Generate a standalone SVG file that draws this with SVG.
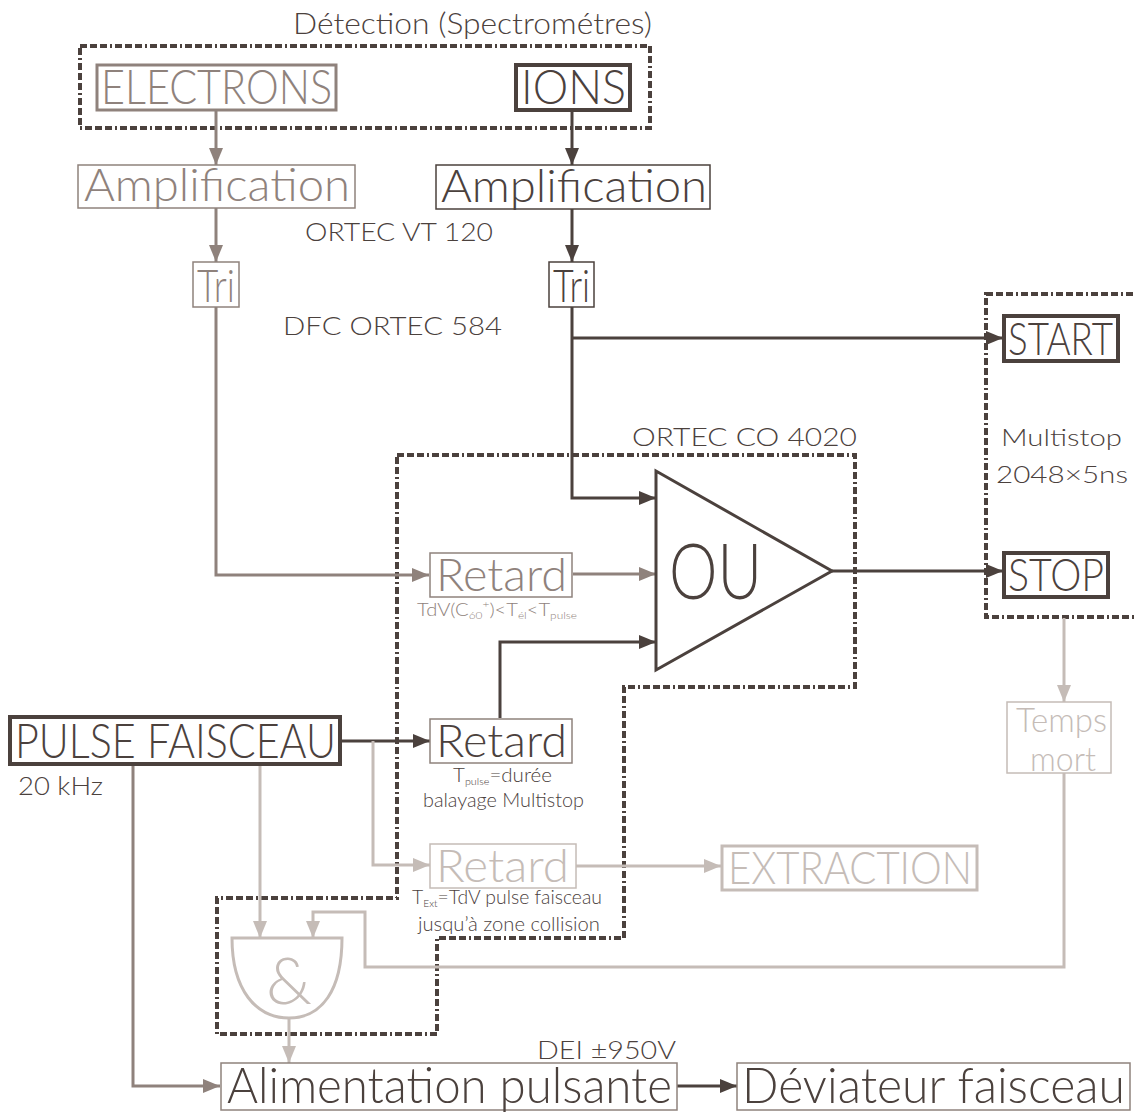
<svg xmlns="http://www.w3.org/2000/svg" width="1134" height="1113" viewBox="0 0 1134 1113">
<defs>
<style>
text{font-family:"Lato","Open Sans","DejaVu Sans",sans-serif;font-weight:300;}
.d{fill:#4b413d}.m{fill:#8f827c}.l{fill:#c5bcb7}
.bd{fill:none;stroke:#4b413d}.bm{fill:none;stroke:#8f827c}.bl{fill:none;stroke:#c5bcb7}
.dot{fill:none;stroke:#4b413d;stroke-width:4;stroke-dasharray:7 3 7 3 7 3 2 3}
.cd{fill:none;stroke:#4b413d;stroke-width:3;marker-end:url(#ad)}
.cm{fill:none;stroke:#8f827c;stroke-width:3;marker-end:url(#am)}
.cl{fill:none;stroke:#c5bcb7;stroke-width:3;marker-end:url(#al)}
</style>
<marker id="ad" viewBox="0 0 17 14" refX="17" refY="7" markerWidth="17" markerHeight="14" markerUnits="userSpaceOnUse" orient="auto"><path d="M0,0L17,7L0,14z" fill="#4b413d"/></marker>
<marker id="am" viewBox="0 0 17 14" refX="17" refY="7" markerWidth="17" markerHeight="14" markerUnits="userSpaceOnUse" orient="auto"><path d="M0,0L17,7L0,14z" fill="#8f827c"/></marker>
<marker id="al" viewBox="0 0 17 14" refX="17" refY="7" markerWidth="17" markerHeight="14" markerUnits="userSpaceOnUse" orient="auto"><path d="M0,0L17,7L0,14z" fill="#c5bcb7"/></marker>
</defs>
<rect width="1134" height="1113" fill="#ffffff"/>

<g id="groups">
<rect class="dot" x="80" y="46" width="570" height="82"/>
<text class="d" x="293" y="34" font-size="29" textLength="359" lengthAdjust="spacingAndGlyphs">Détection (Spectrométres)</text>
<rect class="dot" x="986" y="294" width="160" height="323"/>
<path class="dot" d="M397,455H855V687H624V938H437V1034H217V898H397Z"/>
<text class="d" x="632" y="446" font-size="26" textLength="225" lengthAdjust="spacingAndGlyphs">ORTEC CO 4020</text>
<text class="d" x="305" y="241" font-size="26" textLength="188" lengthAdjust="spacingAndGlyphs">ORTEC VT 120</text>
<text class="d" x="283" y="335" font-size="26" textLength="219" lengthAdjust="spacingAndGlyphs">DFC ORTEC 584</text>
<text class="d" x="1001" y="446" font-size="24" textLength="121" lengthAdjust="spacingAndGlyphs">Multistop</text>
<text class="d" x="996" y="483" font-size="24" textLength="132" lengthAdjust="spacingAndGlyphs">2048×5ns</text>
<text class="d" x="18" y="795" font-size="26" textLength="85" lengthAdjust="spacingAndGlyphs">20 kHz</text>
<text class="d" x="537" y="1059" font-size="26" textLength="139" lengthAdjust="spacingAndGlyphs">DEI ±950V</text>
</g>

<g id="connectors">
<path class="cm" d="M216,110V165"/>
<path class="cd" d="M572,110V165"/>
<path class="cm" d="M216,208V262"/>
<path class="cd" d="M572,209V262"/>
<path class="cm" d="M216,307V575H429"/>
<path class="cd" d="M572,307V498H656"/>
<path class="cd" d="M572,338H1003"/>
<path class="cm" d="M573,574H656"/>
<path class="cd" d="M832,571H1003"/>
<path class="cl" d="M1064,618V702"/>
<path class="cl" d="M1064,773V967H365V912H313V938"/>
<path class="cd" d="M340,741H430"/>
<path class="cd" d="M500,718V642H656"/>
<path class="cl" d="M373,741V865H430"/>
<path class="cl" d="M576,866H721"/>
<path class="cl" d="M260,763V938"/>
<path class="cm" d="M133,763V1086H220"/>
<path class="cl" d="M289,1018V1063"/>
<path class="cd" d="M677,1086H737"/>
</g>

<g id="electrons">
<rect class="bm" stroke-width="3" x="97" y="65" width="239" height="45"/>
<text class="m" x="101" y="104" font-size="48" textLength="231" lengthAdjust="spacingAndGlyphs">ELECTRONS</text>
</g>
<g id="ions">
<rect class="bd" stroke-width="4" x="516" y="65" width="114" height="45"/>
<text class="d" x="521" y="104" font-size="48" textLength="105" lengthAdjust="spacingAndGlyphs">IONS</text>
</g>
<g id="amp-e">
<rect class="bm" stroke-width="1.5" x="78" y="165" width="277" height="43"/>
<text class="m" x="84" y="201" font-size="45" textLength="266" lengthAdjust="spacingAndGlyphs">Amplification</text>
</g>
<g id="amp-i">
<rect class="bd" stroke-width="1.5" x="436" y="165" width="274" height="44"/>
<text class="d" x="441" y="202" font-size="45" textLength="266" lengthAdjust="spacingAndGlyphs">Amplification</text>
</g>
<g id="tri-e">
<rect class="bm" stroke-width="1.5" x="193" y="262" width="46" height="45"/>
<text class="m" x="197" y="302" font-size="46" textLength="38" lengthAdjust="spacingAndGlyphs">Tri</text>
</g>
<g id="tri-i">
<rect class="bd" stroke-width="1.5" x="549" y="262" width="45" height="45"/>
<text class="d" x="553" y="302" font-size="46" textLength="37" lengthAdjust="spacingAndGlyphs">Tri</text>
</g>
<g id="start">
<rect class="bd" stroke-width="4" x="1004" y="316" width="114" height="45"/>
<text class="d" x="1008" y="355" font-size="46" textLength="105" lengthAdjust="spacingAndGlyphs">START</text>
</g>
<g id="stop">
<rect class="bd" stroke-width="4" x="1004" y="553" width="104" height="44"/>
<text class="d" x="1008" y="591" font-size="46" textLength="96" lengthAdjust="spacingAndGlyphs">STOP</text>
</g>
<g id="ou">
<path class="bd" stroke-width="3" d="M656,471V670L832,571Z"/>
<text class="d" x="669" y="599" font-size="76" textLength="93" lengthAdjust="spacingAndGlyphs">OU</text>
</g>
<g id="retard-e">
<rect class="bm" stroke-width="1.5" x="430" y="553" width="142" height="44"/>
<text class="m" x="436" y="591" font-size="45" textLength="131" lengthAdjust="spacingAndGlyphs">Retard</text>
<text class="m" x="417" y="616" font-size="17" textLength="160" lengthAdjust="spacingAndGlyphs">TdV(C<tspan font-size="10" dy="3">60</tspan><tspan font-size="10" dy="-11">+</tspan><tspan dy="8">)&lt;T</tspan><tspan font-size="10" dy="3">él</tspan><tspan dy="-3">&lt;T</tspan><tspan font-size="10" dy="3">pulse</tspan></text>
</g>
<g id="pulse">
<rect class="bd" stroke-width="4" x="10" y="717" width="330" height="47"/>
<text class="d" x="15" y="758" font-size="48" textLength="321" lengthAdjust="spacingAndGlyphs">PULSE FAISCEAU</text>
</g>
<g id="retard-p">
<rect class="bm" stroke-width="1.5" x="430" y="719" width="142" height="44"/>
<text class="d" x="436" y="757" font-size="45" textLength="131" lengthAdjust="spacingAndGlyphs">Retard</text>
<text class="d" x="453" y="782" font-size="19" textLength="99" lengthAdjust="spacingAndGlyphs">T<tspan font-size="10" dy="3">pulse</tspan><tspan dy="-3">=durée</tspan></text>
<text class="d" x="423" y="807" font-size="19" textLength="161" lengthAdjust="spacingAndGlyphs">balayage Multistop</text>
</g>
<g id="retard-x">
<rect class="bl" stroke-width="1.5" x="430" y="844" width="146" height="44"/>
<text class="l" x="436" y="882" font-size="45" textLength="133" lengthAdjust="spacingAndGlyphs">Retard</text>
<text class="d" x="412" y="904" font-size="19" textLength="190" lengthAdjust="spacingAndGlyphs">T<tspan font-size="10" dy="3">Ext</tspan><tspan dy="-3">=TdV pulse faisceau</tspan></text>
<text class="d" x="418" y="931" font-size="19" textLength="182" lengthAdjust="spacingAndGlyphs">jusqu’à zone collision</text>
</g>
<g id="extraction">
<rect class="bl" stroke-width="3" x="722" y="846" width="255" height="44"/>
<text class="l" x="728" y="884" font-size="46" textLength="244" lengthAdjust="spacingAndGlyphs">EXTRACTION</text>
</g>
<g id="temps-mort">
<rect class="bl" stroke-width="1.5" x="1007" y="702" width="104" height="71"/>
<text class="l" x="1016" y="732" font-size="34" textLength="91" lengthAdjust="spacingAndGlyphs">Temps</text>
<text class="l" x="1030" y="771" font-size="34" textLength="66" lengthAdjust="spacingAndGlyphs">mort</text>
</g>
<g id="and">
<path class="bl" stroke-width="3" d="M232,938H342C342,990 322,1018 289,1018C256,1018 232,990 232,938Z"/>
<text class="l" x="289" y="1004" font-size="66" text-anchor="middle">&amp;</text>
</g>
<g id="alim">
<rect class="bm" stroke-width="1.5" x="221" y="1063" width="456" height="47"/>
<text class="d" x="227" y="1103" font-size="49" textLength="445" lengthAdjust="spacingAndGlyphs">Alimentation pulsante</text>
</g>
<g id="deviateur">
<rect class="bm" stroke-width="1.5" x="737" y="1063" width="393" height="47"/>
<text class="d" x="742" y="1103" font-size="49" textLength="383" lengthAdjust="spacingAndGlyphs">Déviateur faisceau</text>
</g>
</svg>
